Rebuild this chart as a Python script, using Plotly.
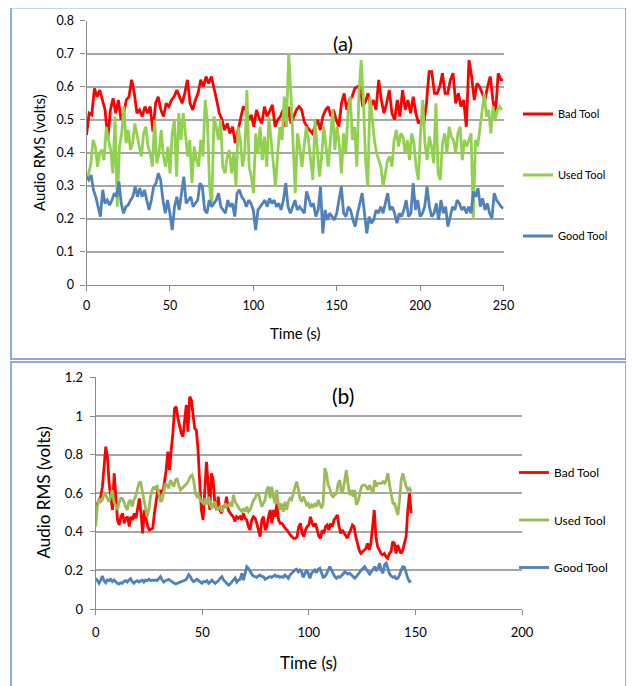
import numpy as np
import plotly.graph_objects as go

# ---------------- DATA ----------------
series_names = ["Bad Tool", "Used Tool", "Good Tool"]

# Panel (a): audio RMS (volts), 0-250 s
a_bad = [0.454, 0.520, 0.515, 0.595, 0.570, 0.590, 0.560, 0.530, 0.439, 0.530, 0.565, 0.520, 0.560, 0.500, 0.520,
         0.560, 0.570, 0.621, 0.580, 0.520, 0.530, 0.510, 0.540, 0.520, 0.540, 0.464, 0.550, 0.570, 0.530, 0.510,
         0.550, 0.540, 0.560, 0.570, 0.590, 0.570, 0.550, 0.580, 0.621, 0.550, 0.530, 0.560, 0.580, 0.621, 0.600,
         0.631, 0.610, 0.631, 0.590, 0.560, 0.520, 0.500, 0.469, 0.489, 0.459, 0.479, 0.429, 0.469, 0.500, 0.540,
         0.530, 0.500, 0.515, 0.479, 0.530, 0.505, 0.489, 0.540, 0.510, 0.530, 0.545, 0.479, 0.500, 0.510, 0.530,
         0.479, 0.540, 0.489, 0.510, 0.530, 0.540, 0.530, 0.494, 0.479, 0.469, 0.459, 0.479, 0.500, 0.469, 0.510,
         0.530, 0.540, 0.510, 0.530, 0.500, 0.479, 0.550, 0.580, 0.530, 0.560, 0.570, 0.595, 0.600, 0.600, 0.540,
         0.555, 0.580, 0.540, 0.560, 0.530, 0.621, 0.560, 0.520, 0.550, 0.590, 0.520, 0.500, 0.560, 0.510, 0.590,
         0.530, 0.560, 0.520, 0.570, 0.520, 0.489, 0.500, 0.489, 0.550, 0.646, 0.646, 0.580, 0.580, 0.600, 0.641,
         0.580, 0.580, 0.621, 0.641, 0.550, 0.580, 0.540, 0.560, 0.479, 0.681, 0.631, 0.560, 0.610, 0.600, 0.580,
         0.560, 0.600, 0.631, 0.560, 0.520, 0.641, 0.621, 0.621]
a_used = [0.323, 0.338, 0.368, 0.439, 0.419, 0.358, 0.399, 0.409, 0.378, 0.479, 0.439, 0.409, 0.338, 0.510, 0.237,
          0.419, 0.459, 0.540, 0.429, 0.469, 0.409, 0.429, 0.489, 0.449, 0.419, 0.389, 0.459, 0.479, 0.419, 0.399,
          0.358, 0.500, 0.368, 0.399, 0.469, 0.389, 0.358, 0.419, 0.338, 0.459, 0.500, 0.328, 0.520, 0.439, 0.520,
          0.459, 0.389, 0.439, 0.308, 0.419, 0.378, 0.358, 0.439, 0.389, 0.560, 0.500, 0.298, 0.237, 0.510, 0.479,
          0.439, 0.500, 0.358, 0.338, 0.389, 0.409, 0.338, 0.399, 0.298, 0.479, 0.439, 0.358, 0.399, 0.590, 0.358,
          0.328, 0.278, 0.459, 0.399, 0.479, 0.378, 0.449, 0.358, 0.510, 0.439, 0.358, 0.298, 0.399, 0.479, 0.439,
          0.570, 0.479, 0.701, 0.580, 0.439, 0.278, 0.459, 0.419, 0.358, 0.419, 0.479, 0.439, 0.378, 0.318, 0.500,
          0.409, 0.328, 0.389, 0.479, 0.419, 0.358, 0.439, 0.530, 0.409, 0.479, 0.429, 0.338, 0.459, 0.399, 0.520,
          0.570, 0.439, 0.479, 0.358, 0.580, 0.681, 0.560, 0.378, 0.298, 0.570, 0.500, 0.439, 0.399, 0.378, 0.358,
          0.298, 0.338, 0.378, 0.389, 0.358, 0.439, 0.469, 0.419, 0.459, 0.449, 0.399, 0.439, 0.378, 0.459, 0.429,
          0.358, 0.318, 0.459, 0.560, 0.429, 0.378, 0.449, 0.419, 0.368, 0.550, 0.338, 0.318, 0.429, 0.459, 0.399,
          0.479, 0.449, 0.439, 0.399, 0.459, 0.479, 0.378, 0.439, 0.419, 0.439, 0.459, 0.197, 0.439, 0.419, 0.479,
          0.520, 0.580, 0.510, 0.530, 0.459, 0.540, 0.500, 0.530, 0.540, 0.530]
a_good = [0.328, 0.318, 0.333, 0.288, 0.267, 0.237, 0.207, 0.288, 0.247, 0.257, 0.242, 0.257, 0.278, 0.267, 0.313,
          0.247, 0.217, 0.237, 0.242, 0.257, 0.267, 0.298, 0.267, 0.293, 0.267, 0.288, 0.257, 0.227, 0.257, 0.298,
          0.308, 0.338, 0.318, 0.257, 0.217, 0.257, 0.217, 0.166, 0.237, 0.267, 0.227, 0.278, 0.328, 0.247, 0.257,
          0.267, 0.237, 0.247, 0.257, 0.308, 0.298, 0.227, 0.217, 0.257, 0.237, 0.247, 0.257, 0.278, 0.237, 0.227,
          0.217, 0.257, 0.237, 0.247, 0.207, 0.278, 0.288, 0.267, 0.257, 0.237, 0.257, 0.247, 0.227, 0.166, 0.227,
          0.237, 0.247, 0.257, 0.237, 0.262, 0.247, 0.257, 0.237, 0.247, 0.227, 0.257, 0.308, 0.237, 0.217, 0.237,
          0.257, 0.227, 0.237, 0.227, 0.217, 0.283, 0.257, 0.237, 0.247, 0.207, 0.227, 0.298, 0.156, 0.227, 0.197,
          0.217, 0.207, 0.197, 0.217, 0.257, 0.298, 0.217, 0.207, 0.237, 0.227, 0.197, 0.177, 0.217, 0.247, 0.278,
          0.217, 0.156, 0.207, 0.187, 0.197, 0.227, 0.217, 0.237, 0.217, 0.247, 0.278, 0.227, 0.237, 0.217, 0.187,
          0.217, 0.207, 0.227, 0.257, 0.207, 0.217, 0.308, 0.227, 0.257, 0.207, 0.217, 0.237, 0.298, 0.237, 0.207,
          0.217, 0.247, 0.197, 0.257, 0.217, 0.237, 0.177, 0.207, 0.237, 0.227, 0.257, 0.247, 0.227, 0.237, 0.217,
          0.237, 0.217, 0.283, 0.267, 0.293, 0.237, 0.262, 0.227, 0.247, 0.217, 0.202, 0.278, 0.257, 0.247, 0.237,
          0.232]
a_end_time = [250, 249, 250]   # last sample time (s) of each series

# Panel (b): audio RMS (volts), 0-148 s
b_bad = [0.513, 0.547, 0.565, 0.582, 0.634, 0.755, 0.841, 0.789, 0.651, 0.582, 0.513, 0.703, 0.547, 0.461, 0.435,
         0.478, 0.496, 0.444, 0.470, 0.478, 0.427, 0.478, 0.461, 0.496, 0.470, 0.513, 0.573, 0.496, 0.392, 0.513,
         0.478, 0.427, 0.409, 0.413, 0.418, 0.496, 0.556, 0.617, 0.582, 0.617, 0.599, 0.651, 0.720, 0.815, 0.720,
         0.824, 0.910, 1.040, 1.048, 0.988, 0.945, 0.910, 0.893, 0.979, 1.057, 0.919, 1.100, 1.083, 1.014, 0.936,
         0.927, 0.824, 0.651, 0.513, 0.461, 0.617, 0.763, 0.651, 0.513, 0.703, 0.668, 0.547, 0.513, 0.582, 0.513,
         0.496, 0.530, 0.530, 0.582, 0.513, 0.496, 0.487, 0.478, 0.453, 0.478, 0.470, 0.478, 0.461, 0.496, 0.470,
         0.461, 0.427, 0.409, 0.461, 0.478, 0.470, 0.444, 0.409, 0.375,
         0.461, 0.478, 0.409, 0.427, 0.478, 0.513, 0.444, 0.513, 0.478, 0.547, 0.461, 0.444, 0.444, 0.427, 0.418,
         0.409, 0.392, 0.383, 0.375, 0.366, 0.366, 0.375, 0.427, 0.444, 0.392, 0.375, 0.409, 0.427, 0.435, 0.478,
         0.444, 0.427, 0.444, 0.409, 0.375, 0.366, 0.409, 0.392, 0.427, 0.435, 0.409, 0.444, 0.427, 0.461, 0.478,
         0.487, 0.427, 0.392, 0.409, 0.392, 0.375, 0.366, 0.392, 0.409, 0.435, 0.427, 0.375, 0.340, 0.306, 0.288,
         0.297, 0.306, 0.314, 0.340, 0.306, 0.340, 0.427, 0.513, 0.375, 0.323, 0.306, 0.288, 0.280, 0.288, 0.271,
         0.263, 0.288, 0.297, 0.349, 0.340, 0.288, 0.332, 0.306, 0.288, 0.306, 0.340, 0.375, 0.513, 0.599, 0.496]
b_used = [0.427, 0.530, 0.573, 0.556, 0.565, 0.599, 0.591, 0.573, 0.556, 0.582, 0.617, 0.556, 0.530, 0.513, 0.547,
          0.573, 0.573, 0.556, 0.530, 0.513, 0.556, 0.565, 0.530, 0.565, 0.582, 0.617, 0.651, 0.660, 0.617, 0.556,
          0.513, 0.478, 0.513, 0.582, 0.617, 0.634, 0.617, 0.642, 0.599, 0.556, 0.565, 0.617, 0.651, 0.642, 0.625,
          0.668, 0.651, 0.634, 0.668, 0.677, 0.642, 0.617, 0.625, 0.634, 0.642, 0.651, 0.668, 0.686, 0.694, 0.668,
          0.599, 0.582, 0.591, 0.565, 0.556, 0.547, 0.573, 0.539, 0.582, 0.539, 0.522, 0.547, 0.556, 0.513, 0.522,
          0.530, 0.504, 0.530, 0.547, 0.530, 0.539, 0.547, 0.530, 0.591, 0.556, 0.539, 0.530, 0.513, 0.504, 0.522,
          0.504, 0.530, 0.504, 0.513, 0.539, 0.565, 0.573, 0.599, 0.599, 0.556, 0.530,
          0.547, 0.565, 0.617, 0.634, 0.573, 0.634, 0.582, 0.547, 0.617, 0.547, 0.513, 0.547, 0.504, 0.556, 0.513,
          0.556, 0.573, 0.565, 0.599, 0.625, 0.660, 0.625, 0.573, 0.556, 0.582, 0.565, 0.539, 0.547, 0.522, 0.539,
          0.530, 0.547, 0.530, 0.565, 0.547, 0.522, 0.547, 0.729, 0.703, 0.642, 0.625, 0.591, 0.582, 0.591, 0.599,
          0.651, 0.668, 0.599, 0.617, 0.668, 0.720, 0.642, 0.591, 0.617, 0.582, 0.617, 0.539, 0.556, 0.599, 0.634,
          0.642, 0.642, 0.634, 0.617, 0.642, 0.617, 0.599, 0.668, 0.634, 0.651, 0.651, 0.651, 0.660, 0.651, 0.668,
          0.703, 0.642, 0.582, 0.547, 0.547, 0.513, 0.487, 0.565, 0.668, 0.703, 0.668, 0.634, 0.617, 0.625, 0.608]
b_good = [0.159, 0.147, 0.133, 0.150, 0.171, 0.147, 0.136, 0.150, 0.147, 0.154, 0.142, 0.150, 0.140, 0.133, 0.130,
          0.136, 0.133, 0.143, 0.147, 0.140, 0.150, 0.157, 0.142, 0.133, 0.142, 0.147, 0.140, 0.147, 0.150, 0.140,
          0.150, 0.147, 0.154, 0.147, 0.150, 0.147, 0.150, 0.147, 0.157, 0.168, 0.150, 0.140, 0.147, 0.150, 0.154,
          0.147, 0.142, 0.133, 0.130, 0.133, 0.136, 0.140, 0.142, 0.147, 0.150, 0.159, 0.178, 0.168, 0.150, 0.142,
          0.150, 0.154, 0.147, 0.140, 0.133, 0.143, 0.140, 0.147, 0.133, 0.140, 0.150, 0.140, 0.133, 0.140, 0.147,
          0.159, 0.168, 0.150, 0.140, 0.133, 0.124, 0.130, 0.140, 0.154, 0.161, 0.140, 0.150, 0.154, 0.185, 0.150,
          0.181, 0.219, 0.211, 0.193, 0.181, 0.171, 0.168, 0.164, 0.171, 0.176, 0.168,
          0.168, 0.154, 0.159, 0.164, 0.168, 0.164, 0.168, 0.176, 0.168, 0.171, 0.164, 0.168, 0.164, 0.176, 0.168,
          0.159, 0.176, 0.185, 0.193, 0.202, 0.206, 0.193, 0.202, 0.192, 0.164, 0.188, 0.202, 0.185, 0.159, 0.185,
          0.193, 0.202, 0.188, 0.206, 0.211, 0.185, 0.164, 0.168, 0.181, 0.202, 0.219, 0.202, 0.181, 0.168, 0.159,
          0.168, 0.164, 0.171, 0.181, 0.193, 0.185, 0.181, 0.185, 0.176, 0.164, 0.159, 0.168, 0.181, 0.188, 0.202,
          0.211, 0.219, 0.206, 0.192, 0.181, 0.192, 0.206, 0.219, 0.202, 0.211, 0.237, 0.202, 0.185, 0.230, 0.237,
          0.202, 0.181, 0.171, 0.164, 0.168, 0.157, 0.159, 0.176, 0.202, 0.219, 0.216, 0.185, 0.159, 0.142, 0.147]
b_end_time = [148, 148, 148]

a_ticks_x = [0, 50, 100, 150, 200, 250]
a_ticks_y = [0, 0.1, 0.2, 0.3, 0.4, 0.5, 0.6, 0.7, 0.8]
b_ticks_x = [0, 50, 100, 150, 200]
b_ticks_y = [0, 0.2, 0.4, 0.6, 0.8, 1, 1.2]

# ---------------- STYLE ----------------
# The page body has an 8px margin, so the figure is made 8px smaller and all
# page positions below are converted to figure positions.
OFF = 8
W, H = 634 - OFF, 686 - OFF
FONT = "Lato"
colors_a = ["#ff0000", "#92d050", "#4f81bd"]
colors_b = ["#ff0000", "#9bbb59", "#4f81bd"]


def px(x):
    return (x - OFF) / W


def py(y):
    return 1 - (y - OFF) / H


fig = go.Figure()

for i, (name, vals) in enumerate(zip(series_names, [a_bad, a_used, a_good])):
    t = np.linspace(0, a_end_time[i], len(vals))
    fig.add_trace(go.Scatter(x=t, y=vals, mode="lines", name=name, xaxis="x", yaxis="y",
                             line=dict(color=colors_a[i], width=2.8), legend="legend",
                             legendgroup="a" + str(i)))

for i, (name, vals) in enumerate(zip(series_names, [b_bad, b_used, b_good])):
    t = np.linspace(0, b_end_time[i], len(vals))
    fig.add_trace(go.Scatter(x=t, y=vals, mode="lines", name=name, xaxis="x2", yaxis="y2",
                             line=dict(color=colors_b[i], width=2.8), legend="legend2",
                             legendgroup="b" + str(i)))

axis_common = dict(showline=True, linecolor="#888888", linewidth=1.2, ticks="outside", ticklen=5,
                   tickcolor="#888888", zeroline=False, color="#000000", automargin=False)

fig.update_layout(
    width=W, height=H,
    margin=dict(l=0, r=0, t=0, b=0, autoexpand=False),
    paper_bgcolor="white", plot_bgcolor="white",
    font=dict(family=FONT, color="#000000"),
    xaxis=dict(domain=[px(86.5), px(503.5)], anchor="y", range=[0, 250], tickvals=a_ticks_x,
               showgrid=False, tickfont=dict(size=12.5), ticklabelstandoff=4, **axis_common),
    yaxis=dict(domain=[py(285), py(20.7)], anchor="x", range=[0, 0.8], tickvals=a_ticks_y,
               showgrid=True, gridcolor="#a6a6a6", gridwidth=1.5, tickfont=dict(size=12.5),
               ticklabelstandoff=4, **axis_common),
    xaxis2=dict(domain=[px(95.7), px(522)], anchor="y2", range=[0, 200], tickvals=b_ticks_x,
                showgrid=False, tickfont=dict(size=13), ticklabelstandoff=6, **axis_common),
    yaxis2=dict(domain=[py(609), py(377.4)], anchor="x2", range=[0, 1.2], tickvals=b_ticks_y,
                showgrid=True, gridcolor="#a6a6a6", gridwidth=1.5, tickfont=dict(size=13),
                ticklabelstandoff=4, **axis_common),
    legend=dict(x=px(518), y=py(99.5), xanchor="left", yanchor="top", bgcolor="rgba(0,0,0,0)",
                font=dict(size=11, family=FONT), tracegroupgap=42, itemwidth=30),
    legend2=dict(x=px(514), y=py(458), xanchor="left", yanchor="top", bgcolor="rgba(0,0,0,0)",
                 font=dict(size=12, family=FONT), tracegroupgap=28.5, itemwidth=30),
    showlegend=True,
)

ann = []
ann.append(dict(text="Audio RMS (volts)", x=px(39), y=py(153), textangle=-90, font=dict(size=15)))
ann.append(dict(text="Time (s)", x=px(294.5), y=py(333), font=dict(size=15)))
ann.append(dict(text="(a)", x=px(342.6), y=py(43), font=dict(size=20)))
ann.append(dict(text="Audio RMS (volts)", x=px(42.5), y=py(493), textangle=-90, font=dict(size=17)))
ann.append(dict(text="Time (s)", x=px(308), y=py(662), font=dict(size=17)))
ann.append(dict(text="(b)", x=px(343), y=py(395), font=dict(size=21)))
for a in ann:
    a.update(xref="paper", yref="paper", showarrow=False, xanchor="center", yanchor="middle")
    a["font"]["family"] = FONT
    a["font"]["color"] = "#000000"
fig.update_layout(annotations=ann)

# panel borders
fig.add_shape(type="rect", xref="paper", yref="paper", x0=px(11), x1=px(626), y0=py(359), y1=py(7.5),
              line=dict(color="#8eaadb", width=2), fillcolor="rgba(0,0,0,0)", layer="below")
fig.add_shape(type="rect", xref="paper", yref="paper", x0=px(11), x1=px(626), y0=py(700), y1=py(362),
              line=dict(color="#8eaadb", width=2), fillcolor="rgba(0,0,0,0)", layer="below")

fig.write_html("out.html")
